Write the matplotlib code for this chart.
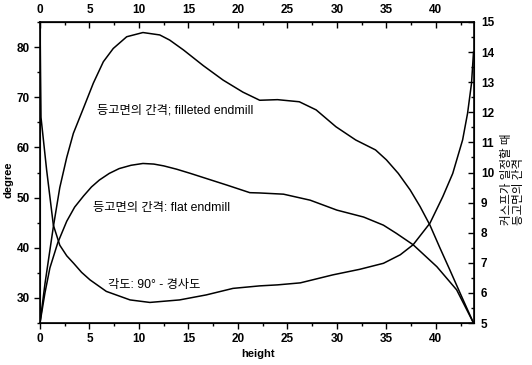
import matplotlib
matplotlib.use("Agg")
import matplotlib.pyplot as plt
from matplotlib.ticker import MultipleLocator

# height values and curves
h_fillet = [0, 0.5, 1.35, 2.0, 2.7, 3.37, 4.38, 5.39, 6.4, 7.4, 8.76, 10.4, 12.1, 13.1,
            14.5, 16.5, 18.5, 20.5, 22.2, 24.0, 26.2, 27.9, 29.9, 31.9, 33.9, 35.0,
            36.2, 37.4, 38.4, 39.4, 40.4, 41.4, 42.6, 43.8]
sp_fillet = [5.0, 6.3, 8.2, 9.5, 10.5, 11.3, 12.13, 12.97, 13.68, 14.12, 14.51, 14.65,
             14.57, 14.4, 14.07, 13.55, 13.07, 12.67, 12.4, 12.42, 12.35, 12.08, 11.52,
             11.08, 10.75, 10.42, 9.97, 9.42, 8.87, 8.25, 7.5, 6.77, 5.88, 5.0]

h_flat = [0, 0.5, 1.0, 1.8, 2.7, 3.5, 4.4, 5.2, 6.0, 7.0, 8.0, 9.2, 10.4, 11.5, 12.5, 13.8,
          15.2, 17.0, 18.9, 21.2, 22.2, 24.6, 27.3, 30.0, 32.7, 34.7, 36.0, 37.7, 40.1,
          42.1, 43.8]
sp_flat = [5.0, 6.0, 6.83, 7.67, 8.38, 8.85, 9.22, 9.52, 9.75, 9.97, 10.13, 10.24, 10.3,
           10.28, 10.22, 10.11, 9.97, 9.78, 9.58, 9.33, 9.32, 9.28, 9.08, 8.75, 8.52,
           8.25, 7.98, 7.6, 6.87, 6.1, 5.0]

h_angle = [0, 0.05, 0.1, 0.67, 1.35, 2.0, 2.7, 3.4, 4.2, 5.05, 6.7, 9.1, 11.1, 14.1, 16.8,
           19.5, 22.2, 24.0, 26.3, 29.6, 32.3, 34.7, 36.4, 37.7, 39.4, 40.7, 41.7, 42.7,
           43.2, 43.6, 43.8]
deg_angle = [86, 75, 66, 55.5, 44.5, 40.5, 38.4, 36.9, 35.1, 33.6, 31.3, 29.6, 29.1, 29.6,
             30.6, 31.9, 32.4, 32.6, 33.0, 34.6, 35.7, 36.9, 38.6, 40.6, 44.9, 50.2, 54.8,
             61.5, 66.8, 72.8, 79.0]

label_fillet = "등고면의 간격; filleted endmill"
label_flat = "등고면의 간격: flat endmill"
label_angle = "각도: 90° - 경사도"
label_right = "커스프가 일정할 때\n등고면의 간격"

fam = ["Liberation Sans", "Noto Sans CJK KR"]
plt.rcParams["font.family"] = fam

fig = plt.figure(figsize=(5.32, 3.65), dpi=100)
ax = fig.add_axes([40 / 532, 1 - 323 / 365, 434 / 532, 301 / 365])
ax2 = ax.twinx()

ax.plot(h_angle, deg_angle, color="black", lw=1.1)
ax2.plot(h_fillet, sp_fillet, color="black", lw=1.1)
ax2.plot(h_flat, sp_flat, color="black", lw=1.1)

ax.set_xlim(0, 43.85)
ax.set_ylim(25, 85)
ax2.set_ylim(5, 15)

ax.xaxis.set_major_locator(MultipleLocator(5))
ax.xaxis.set_minor_locator(MultipleLocator(2.5))
ax.yaxis.set_major_locator(MultipleLocator(10))
ax.yaxis.set_minor_locator(MultipleLocator(5))
ax2.yaxis.set_major_locator(MultipleLocator(1))
ax2.yaxis.set_minor_locator(MultipleLocator(0.5))

ax.tick_params(which="major", direction="out", length=4, width=1, labelsize=8.5)
ax.tick_params(which="minor", direction="out", length=2, width=1)
ax2.tick_params(which="major", direction="in", length=4, width=1, labelsize=8.5, pad=5)
ax2.tick_params(which="minor", direction="in", length=2, width=1)

top = ax.secondary_xaxis("top")
top.xaxis.set_major_locator(MultipleLocator(5))
top.xaxis.set_minor_locator(MultipleLocator(2.5))
top.tick_params(which="major", direction="in", length=4, width=1, labelsize=8.5, pad=4)
top.tick_params(which="minor", direction="in", length=2, width=1)

for a in (ax, ax2, top):
    for lab in a.get_xticklabels() + a.get_yticklabels():
        lab.set_fontweight("bold")
for s in ax.spines.values():
    s.set_linewidth(1.2)

ax.set_xlabel("height", fontsize=8, fontweight="bold")
ax.set_ylabel("degree", fontsize=8, fontweight="bold")
ax.xaxis.set_label_coords(0.502, -0.086)
ax.yaxis.set_label_coords(-0.06, 0.475)

ax.text(5.76, 67.4, label_fillet, fontsize=8.8, ha="left", va="center")
ax.text(5.35, 47.9, label_flat, fontsize=8.8, ha="left", va="center")
ax.text(6.87, 32.6, label_angle, fontsize=8.8, ha="left", va="center")

fig.text(513 / 532, 1 - 225 / 365, label_right, fontsize=8.3, rotation=90,
         ha="center", va="bottom", multialignment="left", linespacing=1.1)

fig.savefig("out.png", dpi=100)
